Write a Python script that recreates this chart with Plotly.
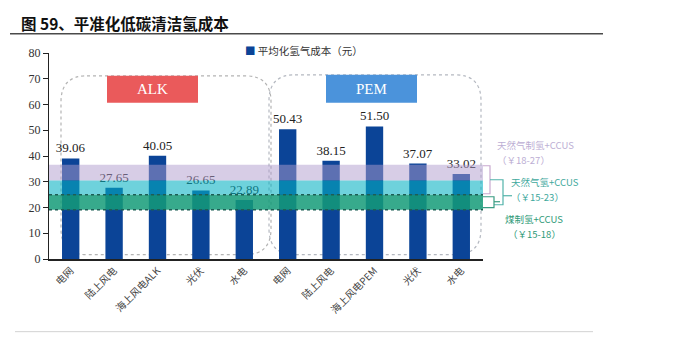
import plotly.graph_objects as go

# ---- data ----
categories = ["电网", "陆上风电", "海上风电ALK", "光伏", "水电",
              "电网 ", "陆上风电 ", "海上风电PEM", "光伏 ", "水电 "]
cost_values = [39.06, 27.65, 40.05, 26.65, 22.89,
               50.43, 38.15, 51.50, 37.07, 33.02]
series_name = "平均化氢气成本（元）"
y_ticks = [0, 10, 20, 30, 40, 50, 60, 70, 80]

# reference cost bands (drawn as horizontal strips)
band_ngas_ccus = (30.5, 36.6)
band_ngas_h2 = (25.0, 30.5)
band_coal_ccus = (19.1, 25.0)

W, H = 689, 340
L, R, T, B = 49, 483, 53.2, 259.3  # plot area in pixels

CJK = "Noto Sans CJK SC"
SERIF = "Liberation Serif"
BAR = "#0b4497"


def px(x):
    return (x - L) / (R - L)


def py(y):
    return (B - y) / (B - T)


def rounded_box(x0, y0, x1, y1, r):
    pts = [
        ("M", (x0 + r, y0)), ("L", (x1 - r, y0)),
        ("Q", (x1, y0), (x1, y0 + r)), ("L", (x1, y1 - r)),
        ("Q", (x1, y1), (x1 - r, y1)), ("L", (x0 + r, y1)),
        ("Q", (x0, y1), (x0, y1 - r)), ("L", (x0, y0 + r)),
        ("Q", (x0, y0), (x0 + r, y0)),
    ]
    s = ""
    for cmd, *p in pts:
        s += cmd + " ".join(f"{px(a):.5f},{py(b):.5f}" for a, b in p) + " "
    return s + "Z"


def polyline(points):
    s = ""
    for i, (a, b) in enumerate(points):
        s += ("M" if i == 0 else "L") + f"{px(a):.5f},{py(b):.5f} "
    return s


fig = go.Figure()
fig.add_trace(go.Bar(
    x=list(range(len(categories))), y=cost_values, name=series_name,
    marker=dict(color=BAR, line=dict(width=0)), width=0.4,
    text=[f"{v:.2f}" for v in cost_values], textposition="outside",
    constraintext="none",
    textfont=dict(family=SERIF, size=13, color="#222"),
    cliponaxis=False, showlegend=False,
))

shapes = []
# rounded dotted group frames
shapes.append(dict(type="path", xref="paper", yref="paper",
                   path=rounded_box(61, 76, 271, 255, 26),
                   line=dict(color="#b4b4b4", width=1.2, dash="dot"), layer="below"))
shapes.append(dict(type="path", xref="paper", yref="paper",
                   path=rounded_box(269, 75, 481, 255, 26),
                   line=dict(color="#b4b8c0", width=1.2, dash="dot"), layer="below"))
# group header boxes
shapes.append(dict(type="rect", xref="paper", yref="paper",
                   x0=px(107), x1=px(198), y0=py(103), y1=py(76),
                   fillcolor="#ea5a5b", line=dict(width=0), layer="above"))
shapes.append(dict(type="rect", xref="paper", yref="paper",
                   x0=px(326), x1=px(417), y0=py(103), y1=py(75),
                   fillcolor="#4b93db", line=dict(width=0), layer="above"))
# cost bands
for (lo, hi), col in [(band_ngas_ccus, "rgba(175,155,205,0.5)"),
                      (band_ngas_h2, "rgba(5,178,195,0.58)"),
                      (band_coal_ccus, "rgba(20,155,120,0.85)")]:
    shapes.append(dict(type="rect", xref="paper", yref="y",
                       x0=0, x1=1.0, y0=lo, y1=hi,
                       fillcolor=col, line=dict(width=0), layer="above"))
for yv in band_coal_ccus:
    shapes.append(dict(type="line", xref="paper", yref="y",
                       x0=0, x1=1.0, y0=yv, y1=yv,
                       line=dict(color="#1d5e55", width=1.5, dash="dot"), layer="above"))
# brackets on the right
shapes.append(dict(type="path", xref="paper", yref="paper",
                   path=polyline([(483, 166), (490, 166), (490, 194), (483, 194)]),
                   line=dict(color="#c9a9cf", width=1.2)))
shapes.append(dict(type="path", xref="paper", yref="paper",
                   path=polyline([(490, 180), (503, 180), (503, 205), (494, 205)]),
                   line=dict(color="#52b3aa", width=1.2)))
shapes.append(dict(type="path", xref="paper", yref="paper",
                   path=polyline([(503, 196), (512, 196)]),
                   line=dict(color="#52b3aa", width=1.2)))
shapes.append(dict(type="path", xref="paper", yref="paper",
                   path=polyline([(483, 197), (494, 197), (494, 208), (483, 208)]),
                   line=dict(color="#3a9c82", width=1.2)))
shapes.append(dict(type="path", xref="paper", yref="paper",
                   path=polyline([(494, 202), (500, 202)]),
                   line=dict(color="#3a9c82", width=1.2)))
# title rule and bottom rule
shapes.append(dict(type="line", xref="paper", yref="paper",
                   x0=px(10), x1=px(603), y0=py(34), y1=py(34),
                   line=dict(color="#4a4a4a", width=1.6)))
shapes.append(dict(type="line", xref="paper", yref="paper",
                   x0=px(15), x1=px(593), y0=py(332), y1=py(332),
                   line=dict(color="#d2d2d2", width=1)))


def note(text, x, y, color, anchor="left"):
    return dict(text=text, xref="paper", yref="paper", x=px(x), y=py(y),
                xanchor=anchor, yanchor="middle", showarrow=False,
                font=dict(family=CJK, size=9.5, color=color))


annotations = [
    dict(text="<b>图 59、平准化低碳清洁氢成本</b>", xref="paper", yref="paper",
         x=px(19), y=py(23), xanchor="left", yanchor="middle", showarrow=False,
         font=dict(family=CJK, size=15.5, color="#111")),
    dict(text=f"<span style='color:{BAR}'>■</span> {series_name}",
         xref="paper", yref="paper", x=px(243), y=py(51),
         xanchor="left", yanchor="middle", showarrow=False,
         font=dict(family=CJK, size=10.5, color="#333")),
    dict(text="ALK", xref="paper", yref="paper", x=px(152.5), y=py(89.5),
         xanchor="center", yanchor="middle", showarrow=False,
         font=dict(family=SERIF, size=15, color="white")),
    dict(text="PEM", xref="paper", yref="paper", x=px(371.5), y=py(89),
         xanchor="center", yanchor="middle", showarrow=False,
         font=dict(family=SERIF, size=15, color="white")),
    note("天然气制氢+CCUS", 495, 145.5, "#bcaed4"),
    note("（￥18-27）", 495, 160.5, "#bcaed4"),
    note("天然气氢+CCUS", 509, 182, "#3fa99d"),
    note("（￥15-23）", 509, 197, "#3fa99d"),
    note("煤制氢+CCUS", 534, 219, "#2f9a78", "center"),
    note("（￥15-18）", 534, 234, "#2f9a78", "center"),
]

fig.update_layout(
    width=W, height=H,
    margin=dict(l=L, r=W - R, t=T, b=H - B, pad=0),
    paper_bgcolor="white", plot_bgcolor="white",
    shapes=shapes, annotations=annotations,
    bargap=0.6,
    xaxis=dict(
        range=[-0.5, len(categories) - 0.5],
        tickmode="array", tickvals=list(range(len(categories))),
        ticktext=[c.strip() for c in categories],
        tickangle=-45, tickfont=dict(family=CJK, size=10, color="#444"),
        showline=True, linecolor="#222", linewidth=2,
        showgrid=False, zeroline=False, ticks="", automargin=False,
    ),
    yaxis=dict(
        range=[0, 80], tickmode="array", tickvals=y_ticks,
        tickfont=dict(family=SERIF, size=12, color="#333"),
        showline=True, linecolor="#222", linewidth=1.2,
        ticks="outside", ticklen=5, tickcolor="#222", tickwidth=1,
        showgrid=False, zeroline=False, automargin=False,
    ),
)

fig.write_html("out.html")
